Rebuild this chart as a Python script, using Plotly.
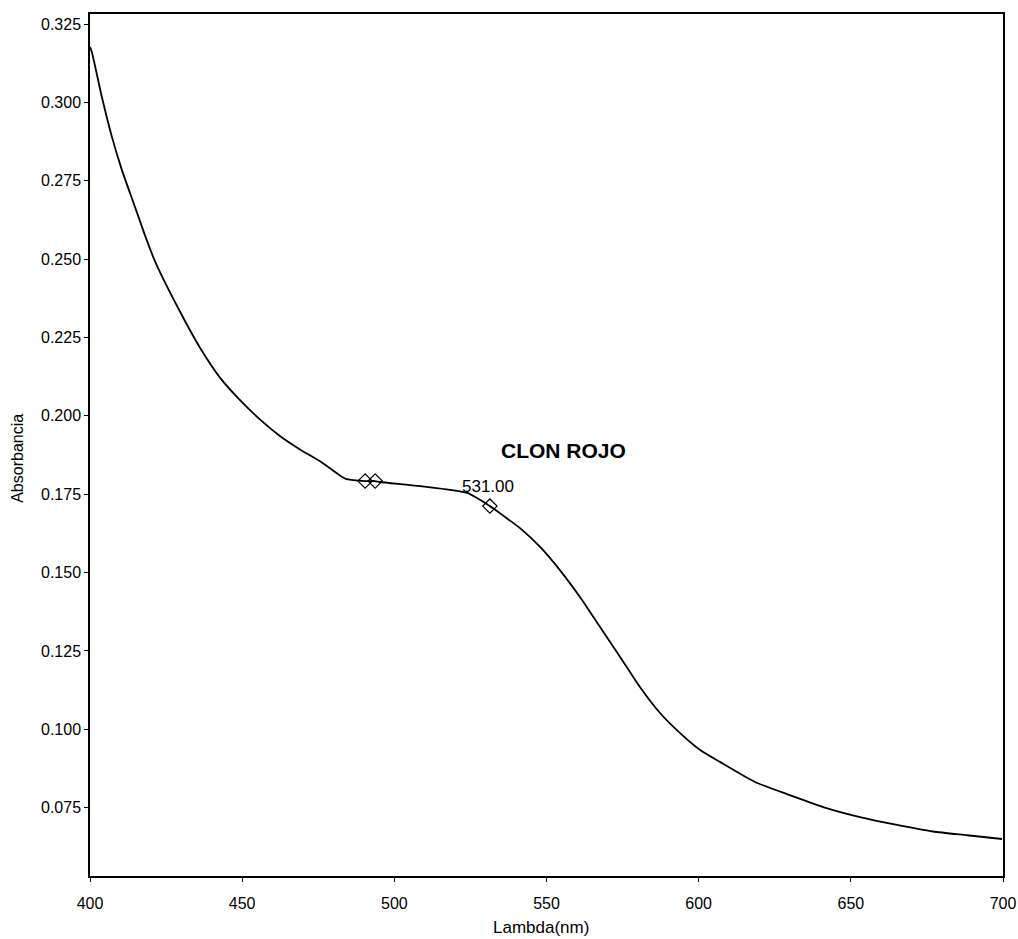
import plotly.graph_objects as go

# Spectrum curve (wavelength nm, absorbance)
wavelength = [400.0, 400.7, 403.9, 407.2, 410.5, 414.8, 418.1, 421.4, 429.6, 436.1,
              442.7, 449.3, 455.9, 462.4, 469.0, 475.6, 482.1, 484.4, 490.4, 493.7,
              495.3, 508.4, 523.9, 531.4, 537.7, 541.3, 547.9, 554.4, 561.0, 567.6,
              574.2, 580.7, 587.3, 593.9, 600.5, 607.0, 618.5, 630.0, 640.9, 653.0,
              665.2, 677.0, 688.2, 699.7]
absorbance = [0.3177, 0.3157, 0.3017, 0.2890, 0.2784, 0.2666, 0.2575, 0.2492, 0.2332, 0.2218,
              0.2122, 0.2050, 0.1988, 0.1936, 0.1893, 0.1855, 0.1810, 0.1798, 0.1792, 0.1792,
              0.1789, 0.1776, 0.1754, 0.1712, 0.1668, 0.1642, 0.1582, 0.1508, 0.1422, 0.1326,
              0.1231, 0.1135, 0.1052, 0.0988, 0.0934, 0.0896, 0.0832, 0.0790, 0.0752, 0.0720,
              0.0695, 0.0674, 0.0662, 0.0650]

# Marked points (open diamonds)
marker_x = [490.4, 493.7, 531.4]
marker_y = [0.1792, 0.1792, 0.1712]

peak_label = "531.00"
sample_label = "CLON ROJO"
x_title = "Lambda(nm)"
y_title = "Absorbancia"

x_ticks = [400, 450, 500, 550, 600, 650, 700]
y_ticks = [0.075, 0.100, 0.125, 0.150, 0.175, 0.200, 0.225, 0.250, 0.275, 0.300, 0.325]

FONT = "Liberation Sans, Arial, sans-serif"

fig = go.Figure()
fig.add_trace(go.Scatter(x=wavelength, y=absorbance, mode="lines",
                         line=dict(color="black", width=1.8, shape="spline", smoothing=0.6),
                         hoverinfo="skip", showlegend=False))
fig.add_trace(go.Scatter(x=marker_x, y=marker_y, mode="markers",
                         marker=dict(symbol="diamond-open", size=11,
                                     color="black", line=dict(width=1.2)),
                         showlegend=False))

fig.add_annotation(x=marker_x[2], y=marker_y[2], text=peak_label, showarrow=False,
                   xanchor="center", yanchor="bottom", yshift=8, xshift=-2,
                   font=dict(family=FONT, size=17, color="black"))
fig.add_annotation(x=555.5, y=0.189, text="<b>" + sample_label + "</b>", showarrow=False,
                   xanchor="center", yanchor="middle",
                   font=dict(family=FONT, size=21, color="black"))

# axis titles placed as annotations in paper coordinates
fig.add_annotation(xref="paper", yref="paper", x=-0.079, y=0.485, text=y_title,
                   textangle=-90, showarrow=False, xanchor="center", yanchor="middle",
                   font=dict(family=FONT, size=16, color="black"))
fig.add_annotation(xref="paper", yref="paper", x=0.494, y=-0.060, text=x_title,
                   showarrow=False, xanchor="center", yanchor="middle",
                   font=dict(family=FONT, size=17, color="black"))

fig.update_layout(
    width=1018, height=939,
    margin=dict(l=90, r=15, t=14, b=63),
    paper_bgcolor="white", plot_bgcolor="white",
    font=dict(family=FONT, size=16, color="black"),
    showlegend=False,
)
fig.update_xaxes(range=[400, 700], tickvals=x_ticks, ticktext=[str(v) for v in x_ticks],
                 automargin=False,
                 showgrid=False, zeroline=False, showline=True, mirror=True,
                 linecolor="black", linewidth=1.5, ticks="outside", ticklen=4,
                 tickcolor="black", tickfont=dict(family=FONT, size=16),
                 ticklabelstandoff=8)
fig.update_yaxes(range=[0.0532, 0.3282], tickvals=y_ticks,
                 ticktext=[f"{v:.3f}" for v in y_ticks],
                 automargin=False,
                 showgrid=False, zeroline=False, showline=True, mirror=True,
                 linecolor="black", linewidth=1.5, ticks="outside", ticklen=4,
                 tickcolor="black", tickfont=dict(family=FONT, size=16))

fig.write_html("out.html")
